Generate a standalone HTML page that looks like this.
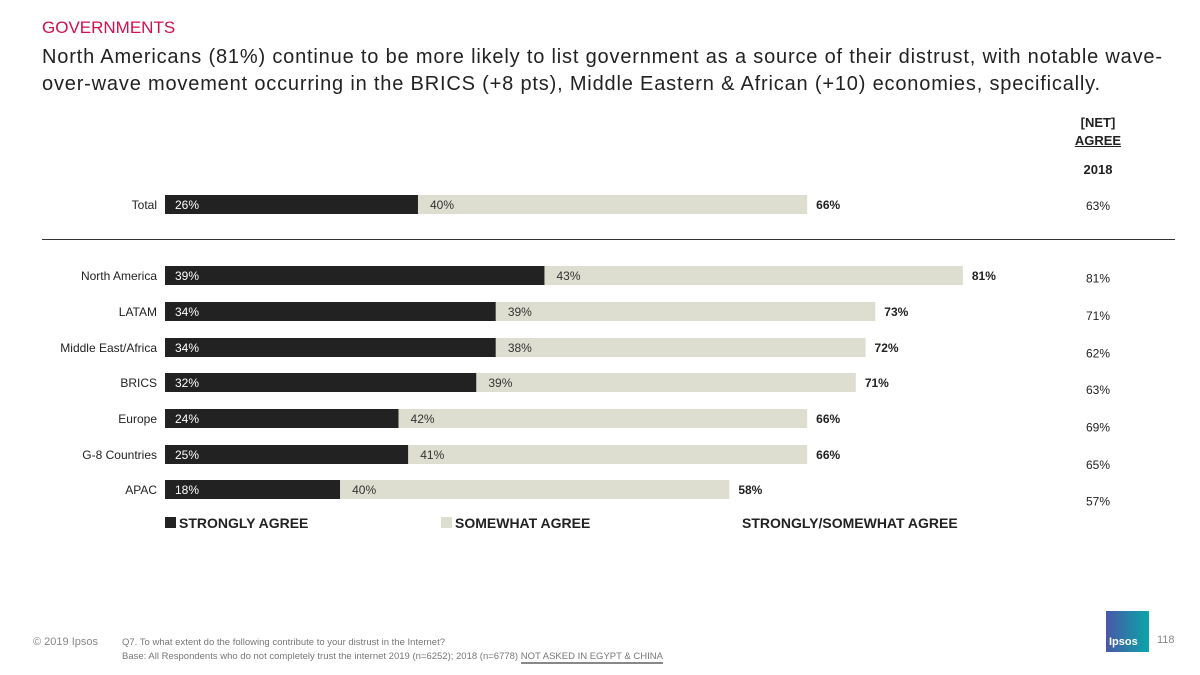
<!DOCTYPE html>
<html><head><meta charset="utf-8"><style>
body{margin:0;width:1200px;height:675px;background:#fff;font-family:"Liberation Sans",sans-serif;position:relative;overflow:hidden}
.a{position:absolute}
</style></head><body>
<div class="a" style="left:42px;top:18px;font-size:17px;color:#d0104c">GOVERNMENTS</div>
<div class="a" style="left:42px;top:44px;width:1140px;font-size:20px;line-height:27px;color:#222;white-space:nowrap;letter-spacing:0.82px">North Americans (81%) continue to be more likely to list government as a source of their distrust, with notable wave-<br>over-wave movement occurring in the BRICS (+8 pts), Middle Eastern &amp; African (+10) economies, specifically.</div>
<div class="a" style="left:1060px;top:114px;width:76px;text-align:center;font-size:13px;font-weight:bold;line-height:18px;color:#222">[NET]<br><span style="text-decoration:underline">AGREE</span></div>
<div class="a" style="left:1060px;top:162px;width:76px;text-align:center;font-size:13px;font-weight:bold;color:#222">2018</div>
<div class="a" style="left:42px;top:239px;width:1133px;height:1px;background:#333"></div>
<svg class="a" style="left:0;top:0" width="1200" height="675" id="chart"></svg>
<div class="a" style="left:165px;top:515px;font-size:14px;font-weight:bold;color:#222;width:900px;height:20px">
<span class="a" style="left:0;top:0;white-space:nowrap"><span style="display:inline-block;width:11px;height:11px;background:#222;margin-right:3px"></span>STRONGLY AGREE</span>
<span class="a" style="left:276px;top:0;white-space:nowrap"><span style="display:inline-block;width:11px;height:11px;background:#ddddd0;margin-right:3px"></span>SOMEWHAT AGREE</span>
<span class="a" style="left:577px;top:0;white-space:nowrap">STRONGLY/SOMEWHAT AGREE</span>
</div>
<div class="a" style="left:33px;top:636px;font-size:11px;color:#888">© 2019 Ipsos</div>
<div class="a" style="left:122px;top:636px;font-size:9.5px;line-height:14px;color:#777;white-space:nowrap">Q7. To what extent do the following contribute to your distrust in the Internet?<br>Base: All Respondents who do not completely trust the internet 2019 (n=6252); 2018 (n=6778) <span style="border-bottom:2px solid #888">NOT ASKED IN EGYPT &amp; CHINA</span></div>
<div class="a" style="left:1106px;top:611px;width:43px;height:41px;background:linear-gradient(90deg,#4a57a8,#0aa5a8);color:#fff;font-size:11px;font-weight:bold"><span class="a" style="left:3px;top:25px">Ipsos</span></div>
<div class="a" style="left:1157px;top:634px;font-size:11px;color:#888">118</div>
<script>
const categories=["Total","North America","LATAM","Middle East/Africa","BRICS","Europe","G-8 Countries","APAC"];
const strongly=[26,39,34,34,32,24,25,18];
const somewhat=[40,43,39,38,39,42,41,40];
const netLabels=[66,81,73,72,71,66,66,58];
const prior2018=[63,81,71,62,63,69,65,57];
const rowY=[195,266,302,338,373,409,445,480];
const svg=document.getElementById('chart');
const NS='http://www.w3.org/2000/svg';
const x0=165,scale=9.73,bh=19;
const xs=v=>x0+v*scale;
function mk(t,at){const e=document.createElementNS(NS,t);for(const k in at)e.setAttribute(k,at[k]);svg.appendChild(e);return e;}
categories.forEach((c,i)=>{
 const y=rowY[i];
 let t=mk('text',{x:157,y:y+14,'text-anchor':'end','font-size':12,fill:'#222','font-family':'Liberation Sans'});t.textContent=c;
 
 
 let r=mk('rect',{x:x0,y:y,width:strongly[i]*scale,height:bh,fill:'#222'});
 
 
 let r2=mk('rect',{x:xs(strongly[i]),y:y,width:somewhat[i]*scale,height:bh,fill:'#ddddd0'});
 
 
 t=mk('text',{x:x0+10,y:y+14,'font-size':12,fill:'#fff','font-family':'Liberation Sans'});t.textContent=strongly[i]+'%';
 
 
 t=mk('text',{x:xs(strongly[i])+12,y:y+14,'font-size':12,fill:'#333','font-family':'Liberation Sans'});t.textContent=somewhat[i]+'%';
 
 
 t=mk('text',{x:xs(strongly[i]+somewhat[i])+9,y:y+14,'font-size':12,'font-weight':'bold',fill:'#222','font-family':'Liberation Sans'});t.textContent=netLabels[i]+'%';
 
 
 t=mk('text',{x:1098,y:y+15+(i>0?(i)*1.5:0),'text-anchor':'middle','font-size':12,fill:'#222','font-family':'Liberation Sans'});t.textContent=prior2018[i]+'%';
 
 
});
</script>
</body></html>
